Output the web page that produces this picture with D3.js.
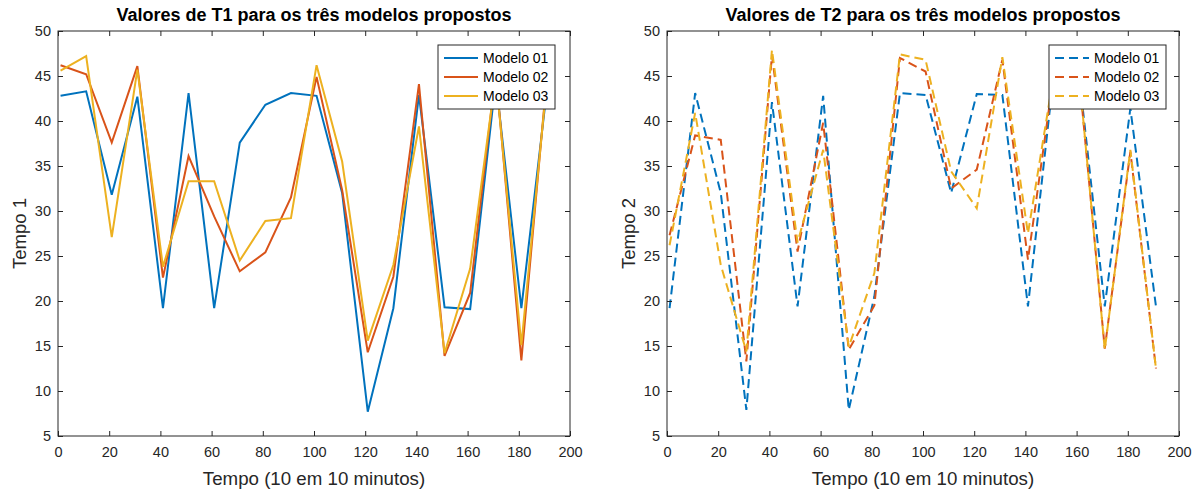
<!DOCTYPE html>
<html>
<head>
<meta charset="utf-8">
<script src="https://cdn.jsdelivr.net/npm/d3@7"></script>
<style>
  body { margin: 0; background: #fff; }
  svg { font-family: "Liberation Sans", Arial, sans-serif; }
  .tick text { fill: #262626; font-size: 14.5px; }
  .tick line { stroke: #262626; }
</style>
</head>
<body>
<svg width="1203" height="491"></svg>
<script>
// Tempo (10 em 10 minutos)
const tempo = [1, 11, 21, 31, 41, 51, 61, 71, 81, 91, 101, 111, 121, 131, 141, 151, 161, 171, 181, 191];

// T1 values
const t1Modelo01 = [42.8, 43.3, 31.8, 42.7, 19.2, 43.1, 19.2, 37.6, 41.8, 43.1, 42.8, 32.0, 7.7, 19.2, 42.9, 19.3, 19.1, 44.5, 19.2, 43.5];
const t1Modelo02 = [46.2, 45.2, 37.6, 46.1, 22.6, 36.1, 29.4, 23.3, 25.4, 31.5, 44.9, 32.3, 14.3, 22.7, 44.1, 13.9, 20.9, 45.5, 13.4, 45.0];
const t1Modelo03 = [45.6, 47.2, 27.1, 45.7, 23.8, 33.3, 33.3, 24.5, 28.9, 29.2, 46.2, 35.5, 15.6, 24.0, 39.4, 14.2, 23.6, 45.0, 15.1, 44.5];

// T2 values
const t2Modelo01 = [19.2, 43.1, 32.0, 7.9, 42.1, 19.4, 42.8, 7.9, 20.5, 43.1, 42.9, 32.0, 43.0, 42.9, 19.4, 45.0, 45.0, 19.4, 41.4, 19.4];
const t2Modelo02 = [27.3, 38.4, 37.9, 13.3, 47.3, 25.5, 39.8, 14.6, 19.5, 47.0, 45.5, 32.5, 34.6, 46.8, 24.6, 45.0, 45.0, 14.7, 36.6, 12.5];
const t2Modelo03 = [26.2, 40.9, 24.0, 14.4, 47.9, 26.5, 36.8, 14.9, 23.1, 47.4, 46.8, 34.4, 30.3, 47.1, 27.5, 45.0, 45.0, 14.6, 36.8, 12.5];

const seriesNames = ["Modelo 01", "Modelo 02", "Modelo 03"];
const seriesColors = ["#0072BD", "#D95319", "#EDB120"];
const xTicks = [0, 20, 40, 60, 80, 100, 120, 140, 160, 180, 200];
const yTicks = [5, 10, 15, 20, 25, 30, 35, 40, 45, 50];
const axisColor = "#262626";

const svg = d3.select("svg");

function drawPanel(opts) {
    const left = opts.left, top = 31, w = 512, h = 405;
    const g = svg.append("g").attr("transform", "translate(" + left + "," + top + ")");

    const x = d3.scaleLinear().domain([0, 200]).range([0, w]);
    const y = d3.scaleLinear().domain([5, 50]).range([h, 0]);

    // lines
    const line = d3.line()
        .x(function (d) { return x(d[0]); })
        .y(function (d) { return y(d[1]); });

    opts.series.forEach(function (s, i) {
        g.append("path")
            .datum(tempo.map(function (t, k) { return [t, s[k]]; }))
            .attr("d", line)
            .attr("fill", "none")
            .attr("stroke", seriesColors[i])
            .attr("stroke-width", 2)
            .attr("stroke-linejoin", "miter")
            .attr("stroke-dasharray", opts.dashed ? "9,5" : null);
    });

    // axes, ticks inward on all sides
    g.append("g").attr("transform", "translate(0," + h + ")")
        .call(d3.axisBottom(x).tickValues(xTicks).tickSizeInner(-5).tickSizeOuter(0).tickPadding(11))
        .call(function (a) { a.select(".domain").remove(); });
    g.append("g")
        .call(d3.axisTop(x).tickValues(xTicks).tickSizeInner(-5).tickSizeOuter(0).tickFormat(""))
        .call(function (a) { a.select(".domain").remove(); });
    g.append("g")
        .call(d3.axisLeft(y).tickValues(yTicks).tickSizeInner(-5).tickSizeOuter(0).tickPadding(7))
        .call(function (a) { a.select(".domain").remove(); });
    g.append("g").attr("transform", "translate(" + w + ",0)")
        .call(d3.axisRight(y).tickValues(yTicks).tickSizeInner(-5).tickSizeOuter(0).tickFormat(""))
        .call(function (a) { a.select(".domain").remove(); });

    g.append("rect")
        .attr("width", w).attr("height", h)
        .attr("fill", "none")
        .attr("stroke", axisColor)
        .attr("stroke-width", 1);

    // title and labels
    g.append("text")
        .attr("x", w / 2).attr("y", -10)
        .attr("text-anchor", "middle")
        .attr("font-size", "18px")
        .attr("font-weight", "bold")
        .attr("fill", "#000")
        .text(opts.title);

    g.append("text")
        .attr("x", w / 2).attr("y", h + 49)
        .attr("text-anchor", "middle")
        .attr("font-size", "18.7px")
        .attr("fill", axisColor)
        .text("Tempo (10 em 10 minutos)");

    g.append("text")
        .attr("text-anchor", "middle")
        .attr("transform", "translate(" + (-32) + "," + (h / 2) + ")rotate(-90)")
        .attr("font-size", "18.5px")
        .attr("fill", axisColor)
        .text(opts.ylabel);

    // legend
    const lg = g.append("g").attr("transform", "translate(" + opts.legendX + ",14)");
    lg.append("rect")
        .attr("width", 117).attr("height", 64)
        .attr("fill", "#fff")
        .attr("stroke", axisColor)
        .attr("stroke-width", 1);
    seriesNames.forEach(function (name, i) {
        lg.append("line")
            .attr("x1", 6).attr("x2", 40)
            .attr("y1", 13 + i * 19).attr("y2", 13 + i * 19)
            .attr("stroke", seriesColors[i])
            .attr("stroke-width", 2)
            .attr("stroke-dasharray", opts.dashed ? "9,5" : null);
        lg.append("text")
            .attr("x", 45).attr("y", 13 + i * 19)
            .attr("dy", "0.35em")
            .attr("font-size", "14px")
            .attr("fill", "#000")
            .text(name);
    });
}

drawPanel({
    left: 58,
    title: "Valores de T1 para os três modelos propostos",
    ylabel: "Tempo 1",
    series: [t1Modelo01, t1Modelo02, t1Modelo03],
    dashed: false,
    legendX: 380
});

drawPanel({
    left: 667,
    title: "Valores de T2 para os três modelos propostos",
    ylabel: "Tempo 2",
    series: [t2Modelo01, t2Modelo02, t2Modelo03],
    dashed: true,
    legendX: 382
});
</script>
</body>
</html>
